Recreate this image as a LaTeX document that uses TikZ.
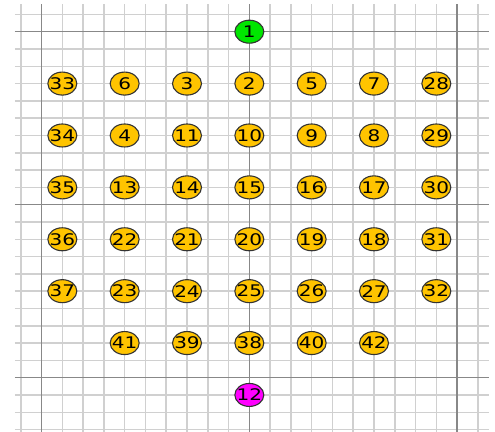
\documentclass[tikz,border=0pt]{standalone}
\usepackage{graphicx}
\usepackage{fontspec}
\setmainfont{DejaVu Sans}
\usetikzlibrary{shapes.geometric}
\definecolor{gridlight}{HTML}{D0D0D0}
\definecolor{griddark}{HTML}{888888}
\definecolor{goldfill}{HTML}{FFC400}
\definecolor{greenfill}{HTML}{00E600}
\definecolor{magentafill}{HTML}{FF00FF}
\newcommand\wide[1]{\makebox[0pt]{\scalebox{1.25}[1]{#1}}}
\begin{document}
\begin{tikzpicture}[x=20.78bp,y=17.3bp,
  minorline/.style={draw=gridlight,line width=1.5bp},
  majorline/.style={draw=griddark,line width=1.3bp},
  dot/.style={ellipse,draw=black!80,line width=1.1bp,minimum width=29bp,minimum height=23bp,inner sep=0pt,
    font=\fontsize{16bp}{16bp}\selectfont,text=black},
  yel/.style={dot,fill=goldfill},
  grn/.style={dot,fill=greenfill},
  mag/.style={dot,fill=magentafill}]
\useasboundingbox (-12,-13.14) rectangle (11.824,11.832);
% grid
\foreach \i in {-11,...,11} \draw[minorline] (\i,11.6) -- (\i,-13.14);
\foreach \j in {-13,...,11} \draw[minorline] (-11.28,\j) -- (11.53,\j);
\foreach \i in {-10,0,10} \draw[majorline] (\i,11.6) -- (\i,-13.14);
\foreach \j in {-10,0,10} \draw[majorline] (-11.28,\j) -- (11.53,\j);
% nodes
\node[grn] (n1) at (0,10) {\wide{1}};
\node[mag] (n12) at (0,-11) {\wide{12}};
% row 7
\node[yel] (n33) at (-9,7) {\wide{33}};
\node[yel] (n6)  at (-6,7) {\wide{6}};
\node[yel] (n3)  at (-3,7) {\wide{3}};
\node[yel] (n2)  at (0,7)  {\wide{2}};
\node[yel] (n5)  at (3,7)  {\wide{5}};
\node[yel] (n7)  at (6,7)  {\wide{7}};
\node[yel] (n28) at (9,7)  {\wide{28}};
% row 4
\node[yel] (n34) at (-9,4) {\wide{34}};
\node[yel] (n4)  at (-6,4) {\wide{4}};
\node[yel] (n11) at (-3,4) {\wide{11}};
\node[yel] (n10) at (0,4)  {\wide{10}};
\node[yel] (n9)  at (3,4)  {\wide{9}};
\node[yel] (n8)  at (6,4)  {\wide{8}};
\node[yel] (n29) at (9,4)  {\wide{29}};
% row 1
\node[yel] (n35) at (-9,1) {\wide{35}};
\node[yel] (n13) at (-6,1) {\wide{13}};
\node[yel] (n14) at (-3,1) {\wide{14}};
\node[yel] (n15) at (0,1)  {\wide{15}};
\node[yel] (n16) at (3,1)  {\wide{16}};
\node[yel] (n17) at (6,1)  {\wide{17}};
\node[yel] (n30) at (9,1)  {\wide{30}};
% row -2
\node[yel] (n36) at (-9,-2) {\wide{36}};
\node[yel] (n22) at (-6,-2) {\wide{22}};
\node[yel] (n21) at (-3,-2) {\wide{21}};
\node[yel] (n20) at (0,-2)  {\wide{20}};
\node[yel] (n19) at (3,-2)  {\wide{19}};
\node[yel] (n18) at (6,-2)  {\wide{18}};
\node[yel] (n31) at (9,-2)  {\wide{31}};
% row -5
\node[yel] (n37) at (-9,-5) {\wide{37}};
\node[yel] (n23) at (-6,-5) {\wide{23}};
\node[yel] (n24) at (-3,-5) {\wide{24}};
\node[yel] (n25) at (0,-5)  {\wide{25}};
\node[yel] (n26) at (3,-5)  {\wide{26}};
\node[yel] (n27) at (6,-5)  {\wide{27}};
\node[yel] (n32) at (9,-5)  {\wide{32}};
% row -8
\node[yel] (n41) at (-6,-8) {\wide{41}};
\node[yel] (n39) at (-3,-8) {\wide{39}};
\node[yel] (n38) at (0,-8)  {\wide{38}};
\node[yel] (n40) at (3,-8)  {\wide{40}};
\node[yel] (n42) at (6,-8)  {\wide{42}};
\end{tikzpicture}
\end{document}
